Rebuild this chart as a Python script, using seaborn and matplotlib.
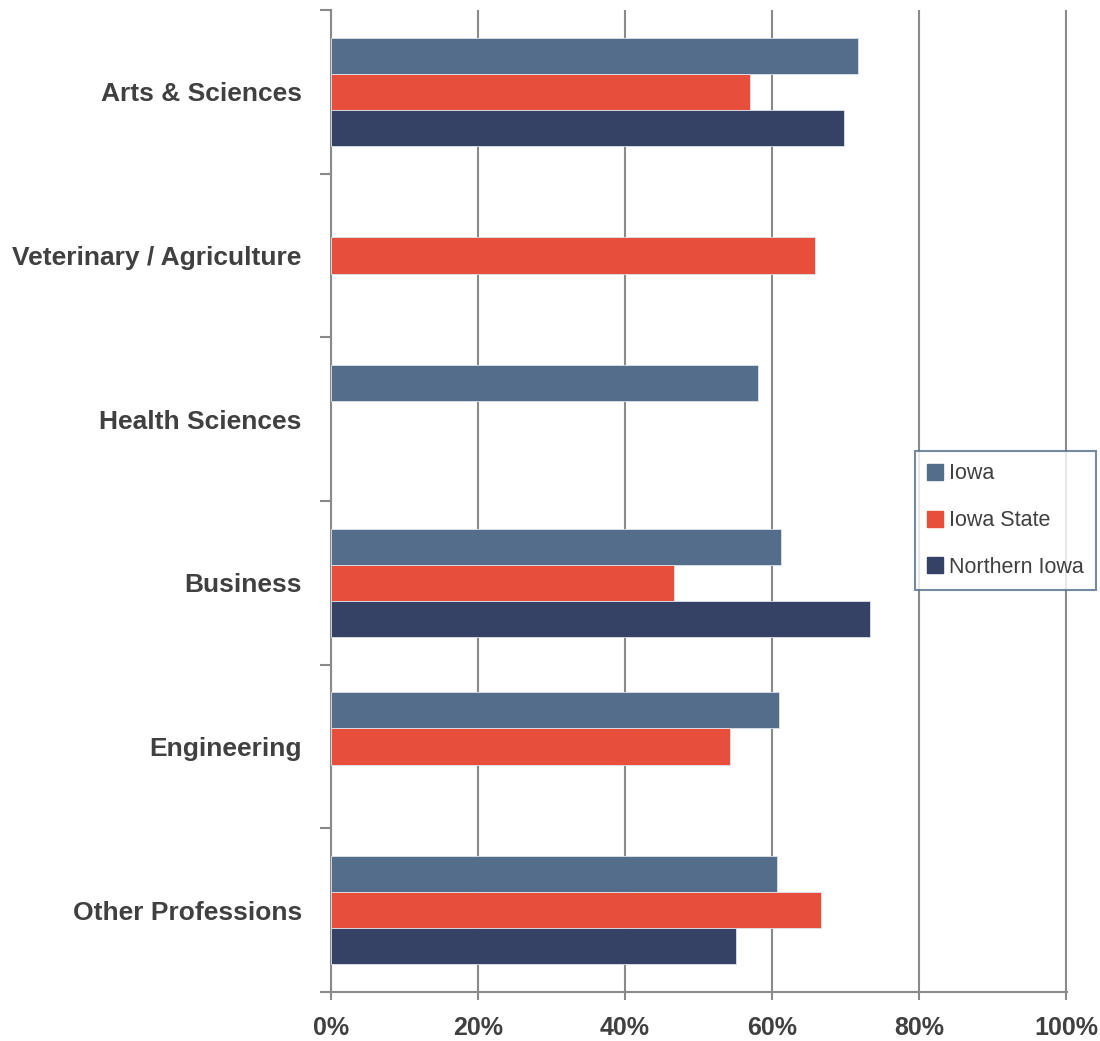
import numpy as np
import pandas as pd
import matplotlib
matplotlib.use("Agg")
import matplotlib.pyplot as plt
from matplotlib.lines import Line2D
import seaborn as sns

# data (share, 0-1); NaN = no bar
categories = ['Arts & Sciences', 'Veterinary / Agriculture', 'Health Sciences',
              'Business', 'Engineering', 'Other Professions']
series = ['Iowa', 'Iowa State', 'Northern Iowa']
iowa = [0.717, np.nan, 0.581, 0.612, 0.610, 0.607]
iowa_state = [0.570, 0.659, np.nan, 0.467, 0.543, 0.667]
northern_iowa = [0.698, np.nan, np.nan, 0.733, np.nan, 0.551]
colors = ['#536d8a', '#e84e3c', '#364265']
xticks = [0, 0.2, 0.4, 0.6, 0.8, 1.0]
xtick_labels = ['0%', '20%', '40%', '60%', '80%', '100%']

df = pd.DataFrame({'category': categories, 'Iowa': iowa,
                   'Iowa State': iowa_state, 'Northern Iowa': northern_iowa})
df = df.melt(id_vars='category', var_name='school', value_name='share')

sns.set_style('white')
plt.rcParams['font.family'] = ['Liberation Sans', 'DejaVu Sans']

fig = plt.figure(figsize=(11, 10.41), dpi=100)
ax = fig.add_axes([331 / 1100, 1 - 992 / 1041, 736 / 1100, 982 / 1041])

sns.barplot(data=df, y='category', x='share', hue='school', order=categories,
            hue_order=series, palette=colors, saturation=1, orient='h',
            width=0.66, gap=0, edgecolor='#dde3ea', linewidth=0.6, ax=ax,
            legend=False, zorder=3)

grid_col = '#8a8a8a'
ax.set_xlim(0, 1.0015)
ax.set_ylim(5.5, -0.5)
ax.set_xticks(xticks)
ax.set_xticklabels(xtick_labels, fontsize=18, fontweight='bold', color='#404040')
ax.set_yticks(range(len(categories)))
ax.set_yticklabels(categories, fontsize=19, fontweight='bold', color='#404040')
ax.set_yticks(np.arange(-0.5, len(categories)), minor=True)
ax.tick_params(axis='y', which='major', left=False, length=0, pad=21)
ax.tick_params(axis='y', which='minor', left=True, length=8, width=1.5,
               color=grid_col, direction='out')
ax.tick_params(axis='x', bottom=True, length=6, width=1.5, color=grid_col,
               direction='out', pad=11)
ax.set_xlabel('')
ax.set_ylabel('')
ax.grid(axis='x', color=grid_col, linewidth=1.5, zorder=0)
ax.set_axisbelow(True)
for side in ['top', 'right']:
    ax.spines[side].set_visible(False)
for side in ['left', 'bottom']:
    ax.spines[side].set_color(grid_col)
    ax.spines[side].set_linewidth(1.5)

handles = [Line2D([], [], marker='s', linestyle='none', markersize=11,
                  markerfacecolor=c, markeredgecolor=c) for c in colors]
leg = ax.legend(handles, series, loc='center left', bbox_to_anchor=(0.7935, 0.48),
                frameon=True, fancybox=False, fontsize=15.5, handlelength=0.8,
                handletextpad=0.25, labelspacing=1.2, borderpad=0.55,
                borderaxespad=0, labelcolor='#404040')
leg.get_frame().set_edgecolor('#536d8a')
leg.get_frame().set_linewidth(1.5)
leg.set_zorder(5)

fig.savefig('out.png', dpi=100)
